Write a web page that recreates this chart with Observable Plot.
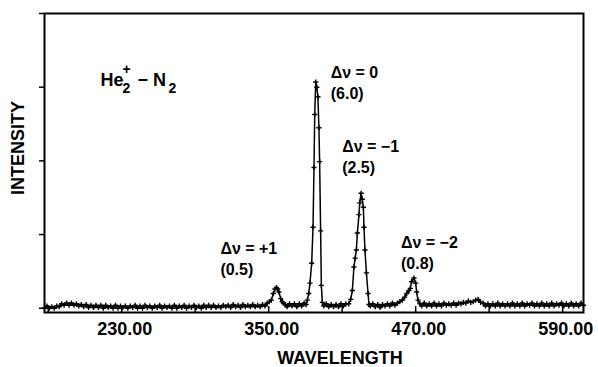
<!DOCTYPE html>
<html>
<head>
<meta charset="utf-8">
<script src="https://cdn.jsdelivr.net/npm/d3@7"></script>
<script src="https://cdn.jsdelivr.net/npm/@observablehq/plot@0.6"></script>
<style>
  html, body { margin: 0; padding: 0; background: #fff; }
  #chart { width: 598px; height: 367px; }
</style>
</head>
<body>
<div id="chart"></div>
<script>
// Emission spectrum of He2+ – N2 charge transfer (N2+ first negative bands)
const wavelength = [
  167, 169, 171, 173, 175, 177, 179, 181, 183, 185, 187, 189, 191, 193, 195, 197, 199,
  201, 203, 205, 207, 209, 211, 213, 215, 217, 219, 221, 223, 225, 227, 229, 231, 233,
  235, 237, 239, 241, 243, 245, 247, 249, 251, 253, 255, 257, 259, 261, 263, 265, 267,
  269, 271, 273, 275, 277, 279, 281, 283, 285, 287, 289, 291, 293, 295, 297, 299, 301,
  303, 305, 307, 309, 311, 313, 315, 317, 319, 321, 323, 325, 327, 329, 331, 333, 335,
  337, 339, 341, 343, 345, 347,
  348.9, 350.6, 352.2, 353.8, 355.1, 356.3, 357.4, 358.4, 359.8, 361.0, 362.0, 363.5,
  365, 367, 369, 371, 373, 375, 377, 379, 380.5,
  381.6, 382.7, 383.7, 385.1, 386.2, 387.0, 387.6, 388.4, 389.3, 390.2, 391.0, 391.6,
  392.4, 393.0, 393.8,
  395, 397, 399, 401, 403, 405, 407, 409, 411, 413,
  415.3, 416.9, 418.3, 419.6, 420.6, 421.6, 422.4, 423.7, 424.3, 425.5, 426.4, 427.3,
  427.8, 428.6, 429.8, 431.1, 431.9,
  433, 435, 437, 439, 441, 443, 445, 447, 449, 451, 453,
  455.1, 457.1, 459.1, 461.0, 462.7, 464.5, 465.6, 466.7, 468.6, 470.0, 470.8, 471.9, 473.5,
  475, 477, 479, 481, 483, 485, 487, 489, 491, 493, 495, 497, 499, 501, 503, 505, 507,
  509, 511, 513, 515, 517, 519, 521, 523, 525, 527, 529, 531, 533, 535, 537, 539, 541,
  543, 545, 547, 549, 551, 553, 555, 557, 559, 561, 563, 565, 567, 569, 571, 573, 575,
  577, 579, 581, 583, 585, 587, 589, 591, 593, 595, 597, 599, 601, 603, 605, 607
];

const intensity = [
  0.00, 0.03, 0.00, 0.02, 0.00, 0.03, 0.02, 0.06, 0.04, 0.07, 0.04, 0.07, 0.04, 0.06, 0.03, 0.05, 0.02,
  0.05, 0.01, 0.04, 0.01, 0.04, 0.01, 0.04, 0.00, 0.04, 0.01, 0.03, 0.00, 0.04, 0.00, 0.03, 0.01, 0.03,
  0.00, 0.03, 0.01, 0.04, 0.00, 0.03, 0.00, 0.04, 0.01, 0.03, 0.00, 0.03, 0.01, 0.04, 0.00, 0.03, 0.01,
  0.03, 0.00, 0.04, 0.00, 0.03, 0.01, 0.04, 0.00, 0.03, 0.01, 0.04, 0.01, 0.03, 0.00, 0.04, 0.01, 0.04,
  0.01, 0.04, 0.01, 0.03, 0.01, 0.04, 0.02, 0.04, 0.01, 0.05, 0.02, 0.04, 0.01, 0.05, 0.02, 0.04, 0.02,
  0.05, 0.02, 0.04, 0.02, 0.05, 0.03,
  0.07, 0.09, 0.11, 0.20, 0.26, 0.28, 0.26, 0.22, 0.13, 0.09, 0.07, 0.05,
  0.02, 0.06, 0.03, 0.06, 0.02, 0.06, 0.03, 0.07, 0.05,
  0.11, 0.20, 0.34, 0.61, 1.10, 1.91, 2.63, 3.07, 3.00, 2.87, 2.45, 1.99,
  1.05, 0.31, 0.08,
  0.03, 0.06, 0.02, 0.05, 0.02, 0.05, 0.02, 0.06, 0.03, 0.06,
  0.06, 0.12, 0.24, 0.56, 0.68, 0.79, 1.02, 1.27, 1.43, 1.56, 1.48, 1.37,
  1.10, 0.79, 0.48, 0.20, 0.05,
  0.03, 0.06, 0.02, 0.05, 0.01, 0.05, 0.03, 0.06, 0.03, 0.07, 0.04,
  0.07, 0.09, 0.11, 0.15, 0.20, 0.24, 0.27, 0.36, 0.41, 0.34, 0.22, 0.11, 0.06,
  0.03, 0.07, 0.03, 0.06, 0.03, 0.07, 0.03, 0.06, 0.03, 0.07, 0.04, 0.06, 0.04, 0.07, 0.04, 0.07, 0.06,
  0.08, 0.07, 0.10, 0.08, 0.09, 0.11, 0.12, 0.08, 0.07, 0.03, 0.06, 0.03, 0.06, 0.03, 0.07, 0.03, 0.06,
  0.03, 0.06, 0.03, 0.07, 0.03, 0.06, 0.03, 0.07, 0.03, 0.06, 0.04, 0.07, 0.03, 0.06, 0.03, 0.07, 0.03,
  0.06, 0.03, 0.07, 0.03, 0.06, 0.04, 0.07, 0.03, 0.06, 0.03, 0.07, 0.03, 0.06, 0.03, 0.07, 0.04
];

// Vibrational bands: label, relative intensity in parentheses, peak position (nm)
const bandLabels = ["Δν = +1", "Δν = 0", "Δν = −1", "Δν = −2"];
const bandRatios = ["(0.5)", "(6.0)", "(2.5)", "(0.8)"];
const bandPeaks = [356.3, 388.4, 425.5, 468.6];

const xTickLabels = [230, 350, 470, 590];
const xTicks = [170, 230, 290, 350, 410, 470, 530, 590];
const yTicks = [0, 1, 2, 3, 4];

const spectrum = wavelength.map((w, i) => ({wavelength: w, intensity: intensity[i]}));
const peakOf = (w) => spectrum.find((d) => d.wavelength === w).intensity;
const bands = bandLabels.map((label, i) => ({
  text: `${label}\n${bandRatios[i]}`,
  wavelength: bandPeaks[i],
  intensity: peakOf(bandPeaks[i])
}));

const font = "'Liberation Sans', Arial, Helvetica, sans-serif";
const bold = {fontFamily: font, fontWeight: "bold", fill: "black"};
// label offsets (px) from each band's peak
const bandOffsets = [[-56, -48], [15, -19], [-19, -56], [-13, -45]];

const chart = Plot.plot({
  width: 598,
  height: 367,
  marginLeft: 44,
  marginRight: 15,
  marginTop: 13,
  marginBottom: 55,
  style: {background: "white", color: "black", fontFamily: font},
  x: {domain: [167, 607]},
  y: {domain: [-0.058, 4.0]},
  marks: [
    Plot.axisY({ticks: yTicks, tickSize: 5, tickFormat: () => "", label: null, strokeWidth: 1.5}),
    Plot.axisX({ticks: xTickLabels, tickSize: 0, tickPadding: 10, tickFormat: d3.format(".2f"),
      label: null, fontSize: 18, fontWeight: "bold", fontFamily: font, dx: 3}),
    Plot.tickX(xTicks, {x: (d) => d, insetTop: 293, stroke: "black", strokeWidth: 1.5}),
    Plot.line(spectrum, {x: "wavelength", y: "intensity", stroke: "black", strokeWidth: 1.5}),
    Plot.dot(spectrum, {x: "wavelength", y: "intensity", symbol: "plus", r: 1.8, stroke: "black", strokeWidth: 1.4}),
    ...bands.map((b, i) => Plot.text([b], {
      x: "wavelength", y: "intensity", text: "text",
      dx: bandOffsets[i][0], dy: bandOffsets[i][1],
      textAnchor: "start", lineAnchor: "top", lineHeight: 1.3, fontSize: 16, ...bold
    })),
    // He2+ − N2 title with stacked sub/superscripts
    Plot.text(["He"], {frameAnchor: "top-left", dx: 56, dy: 72, textAnchor: "start", lineAnchor: "bottom", fontSize: 18, ...bold}),
    Plot.text(["+"], {frameAnchor: "top-left", dx: 78, dy: 60, textAnchor: "start", lineAnchor: "bottom", fontSize: 14, ...bold}),
    Plot.text(["2"], {frameAnchor: "top-left", dx: 78, dy: 79, textAnchor: "start", lineAnchor: "bottom", fontSize: 14, ...bold}),
    Plot.text(["− N"], {frameAnchor: "top-left", dx: 93, dy: 72, textAnchor: "start", lineAnchor: "bottom", fontSize: 18, ...bold}),
    Plot.text(["2"], {frameAnchor: "top-left", dx: 124, dy: 79, textAnchor: "start", lineAnchor: "bottom", fontSize: 14, ...bold}),
    // axis titles
    Plot.text(["INTENSITY"], {frameAnchor: "left", dx: -26, dy: -15, rotate: -90, textAnchor: "middle", lineAnchor: "middle", fontSize: 18, ...bold}),
    Plot.text(["WAVELENGTH"], {frameAnchor: "bottom", dx: 26, dy: 46, textAnchor: "middle", lineAnchor: "middle", fontSize: 18, ...bold}),
    Plot.frame({stroke: "black", strokeWidth: 2})
  ]
});

document.getElementById("chart").appendChild(chart);
</script>
</body>
</html>
